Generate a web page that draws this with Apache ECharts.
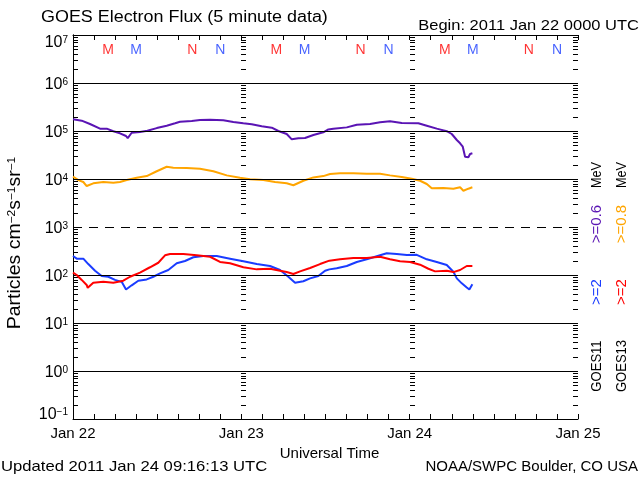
<!DOCTYPE html>
<html><head><meta charset="utf-8">
<script src="https://cdn.jsdelivr.net/npm/echarts@6/dist/echarts.min.js"></script>
<style>html,body{margin:0;padding:0;background:#fff}#c{width:640px;height:480px}</style>
</head><body><div id="c"></div>
<script>
// hours since 2011 Jan 22 00:00 UTC
const purpleHours = [0,1.24,2.42,3.85,4.81,5.75,6.7,7.56,7.8,8.37,9.55,10.6,11.94,13.36,14.55,15.26,16.93,18.11,19.54,21.43,22.86,24.28,25.48,26.91,28.34,29.28,30.47,31.19,32.13,33.08,34.27,35.69,36.41,37.12,39.03,40.46,42.35,43.78,45.2,46.87,49.24,50.44,51.86,53.29,54.0,54.72,55.19,55.57,55.9,56.37,56.61,56.94];
const purpleFlux = [1.75e5,1.64e5,1.40e5,1.12e5,1.12e5,9.9e4,8.96e4,7.87e4,7.1e4,9.2e4,9.5e4,1.01e5,1.15e5,1.29e5,1.45e5,1.56e5,1.62e5,1.69e5,1.72e5,1.67e5,1.54e5,1.45e5,1.38e5,1.25e5,1.17e5,1.0e5,8.66e4,6.71e4,7.05e4,7.14e4,8.26e4,9.4e4,1.08e5,1.12e5,1.19e5,1.35e5,1.40e5,1.52e5,1.59e5,1.47e5,1.45e5,1.29e5,1.12e5,9.9e4,8.66e4,6.49e4,5.54e4,4.71e4,2.91e4,2.83e4,3.32e4,3.43e4];
const orangeHours = [0,0.76,1.47,1.95,2.89,4.32,5.75,6.7,7.66,9.08,10.51,11.94,13.36,14.3,16.21,18.11,20.01,21.92,23.81,25.24,27.14,28.81,30.47,31.42,32.84,34.27,35.69,36.65,38.07,39.97,41.88,43.78,45.2,46.87,48.3,49.48,50.44,51.15,52.81,54.23,55.19,55.66,56.37,56.94];
const orangeFlux = [1.12e4,9.5e3,8.66e3,7.14e3,8.13e3,8.66e3,8.38e3,8.66e3,9.5e3,1.06e4,1.15e4,1.45e4,1.80e4,1.72e4,1.69e4,1.64e4,1.45e4,1.19e4,1.06e4,9.86e3,9.5e3,8.66e3,8.13e3,7.4e3,9.2e3,1.08e4,1.15e4,1.27e4,1.31e4,1.31e4,1.29e4,1.29e4,1.19e4,1.10e4,1.01e4,9.2e3,7.87e3,6.4e3,6.49e3,6.28e3,6.71e3,5.7e3,6.28e3,6.71e3];
const blueHours = [0,0.53,1.47,2.18,3.14,4.09,5.03,5.99,6.94,7.56,8.37,9.31,10.51,11.45,12.41,13.59,14.79,15.97,17.16,18.58,20.49,22.39,24.29,26.2,28.09,29.52,30.7,31.66,32.84,33.8,34.98,35.94,36.55,37.6,39.03,40.46,41.88,43.07,44.73,46.16,47.59,49.01,50.44,51.86,53.29,54.23,54.72,55.43,56.14,56.51,56.94];
const blueFlux = [249,219,219,169,123,95,92,79,72,50,61,76,81,92,108,127,175,196,234,249,249,219,193,169,154,127,92,69,74,85,95,123,131,138,154,187,212,240,283,274,261,263,212,187,162,117,85,67,55,50,64];
const redHours = [0,0.53,1.24,1.95,2.1,2.89,4.32,5.75,7.17,8.13,9.55,10.98,12.16,13.12,13.83,15.73,17.64,19.54,20.96,22.39,24.29,26.2,28.09,29.52,30.47,31.42,32.37,33.8,35.22,36.55,38.07,39.97,41.88,43.78,45.2,46.63,48.06,49.48,50.67,51.62,53.29,54.23,55.19,56.14,56.94];
const redFlux = [112,100,79,62,54,69,72,69,76,92,112,145,180,257,274,274,257,240,187,175,145,131,135,123,115,105,119,140,169,199,212,226,226,240,212,193,187,164,135,119,123,115,127,154,154];
// local midnight (M) / noon (N) markers: GOES13 red, GOES11 blue
const markerHoursG13 = [5,17,29,41,53,65];
const markerTextG13 = ['M','N','M','N','M','N'];
const markerHoursG11 = [9,21,33,45,57,69];
const markerTextG11 = ['M','N','M','N','M','N'];
const dayLabels = ['Jan 22','Jan 23','Jan 24','Jan 25'];
const decadeExps = [-1,0,1,2,3,4,5,6,7];

const FONT = 'Liberation Sans';
const C_PURPLE = '#5a14b4', C_ORANGE = '#ffa500', C_BLUE = '#1a3cff', C_RED = '#ff0000';

const zip = (h, v) => h.map((x, i) => [x, v[i]]);

// log ticks (1..9 x 10^k) for left/right axes and day boundaries
const tickVals = [];
for (let k = -1; k < 7; k++) for (let m = 1; m <= 9; m++) tickVals.push(m * Math.pow(10, k));
tickVals.push(1e7);
const tickData = [];
[[0, 1], [24, 1], [48, 1], [72, -1]].forEach(([x, d]) => tickVals.forEach(v => tickData.push([x, v, d])));

const supLabel = e => {
  const core = '{b|10}{s|' + (e < 0 ? '\u2212' + (-e) : e) + '}';
  if (e === 7) return '{g|}\n' + core;
  if (e === -1) return core + '\n{g|}';
  return core;
};

const chart = echarts.init(document.getElementById('c'), null, {renderer: 'canvas'});
const axisTxt = {fontFamily: FONT, fontSize: 15, color: '#000'};
chart.setOption({
  animation: false,
  backgroundColor: '#fff',
  grid: {left: 73, right: 62, top: 35, bottom: 61, containLabel: false},
  xAxis: [{
    type: 'value', min: 0, max: 72, interval: 3, position: 'bottom',
    axisLine: {lineStyle: {color: '#000', width: 1}},
    axisTick: {inside: true, length: 5, lineStyle: {color: '#000'}},
    splitLine: {show: false},
    axisLabel: Object.assign({margin: 7, formatter: v => (v % 24 === 0 ? dayLabels[v / 24] : '')}, axisTxt),
    name: 'Universal Time', nameLocation: 'middle', nameGap: 22,
    nameTextStyle: {fontFamily: FONT, fontSize: 15, color: '#000', padding: [0, 0, 0, 8]}
  }, {
    type: 'value', min: 0, max: 72, interval: 3, position: 'top',
    axisLine: {lineStyle: {color: '#000', width: 1}},
    axisTick: {inside: true, length: 5, lineStyle: {color: '#000'}},
    splitLine: {show: false}, axisLabel: {show: false}
  }],
  yAxis: [{
    type: 'log', logBase: 10, min: 0.1, max: 1e7, splitNumber: 8, position: 'left',
    axisLine: {show: true, lineStyle: {color: '#000', width: 1}},
    axisTick: {show: false}, splitLine: {show: false},
    axisLabel: {
      margin: 5, formatter: v => supLabel(Math.round(Math.log10(v))),
      padding: [4, 0, 0, 0],
      rich: {
        b: {fontFamily: FONT, fontSize: 16, color: '#000', lineHeight: 16},
        s: {fontFamily: FONT, fontSize: 10, color: '#000', verticalAlign: 'top', lineHeight: 10},
        g: {fontSize: 10, lineHeight: 12}
      }
    }
  }, {
    type: 'log', logBase: 10, min: 0.1, max: 1e7, splitNumber: 8, position: 'right',
    axisLine: {show: true, lineStyle: {color: '#000', width: 1}},
    axisTick: {show: false}, splitLine: {show: false}, axisLabel: {show: false}
  }],
  series: [{
    type: 'line', data: [], silent: true, z: 1,
    markLine: {
      silent: true, symbol: ['none', 'none'], label: {show: false}, animation: false,
      data: decadeExps.filter(e => e > -1 && e < 7).map(e => ({
        yAxis: Math.pow(10, e),
        lineStyle: {color: '#000', width: 1, type: e === 3 ? [9, 7] : 'solid'}
      }))
    }
  }, {
    type: 'custom', data: tickData, silent: true, z: 3, clip: false,
    renderItem: (params, api) => {
      const p = api.coord([api.value(0), api.value(1)]);
      const y = Math.round(p[1]) + 0.5;
      const x = Math.round(p[0]);
      const d = api.value(2);
      return {type: 'line', shape: {x1: x, y1: y, x2: x + d * 5, y2: y}, style: {stroke: '#000', lineWidth: 1}};
    }
  }, {
    type: 'line', data: zip(purpleHours, purpleFlux), showSymbol: false, z: 4,
    lineStyle: {color: C_PURPLE, width: 2}, itemStyle: {color: C_PURPLE}
  }, {
    type: 'line', data: zip(orangeHours, orangeFlux), showSymbol: false, z: 4,
    lineStyle: {color: C_ORANGE, width: 2}, itemStyle: {color: C_ORANGE}
  }, {
    type: 'line', data: zip(blueHours, blueFlux), showSymbol: false, z: 4,
    lineStyle: {color: C_BLUE, width: 2}, itemStyle: {color: C_BLUE}
  }, {
    type: 'line', data: zip(redHours, redFlux), showSymbol: false, z: 5,
    lineStyle: {color: C_RED, width: 2}, itemStyle: {color: C_RED}
  }, {
    type: 'scatter', symbolSize: 0, z: 6, silent: true,
    data: markerHoursG13.map((h, i) => ({value: [h, 4.9e6], name: markerTextG13[i]})),
    label: {show: true, position: 'inside', formatter: p => p.name, fontFamily: FONT, fontSize: 14, color: C_RED}
  }, {
    type: 'scatter', symbolSize: 0, z: 6, silent: true,
    data: markerHoursG11.map((h, i) => ({value: [h, 4.9e6], name: markerTextG11[i]})),
    label: {show: true, position: 'inside', formatter: p => p.name, fontFamily: FONT, fontSize: 14, color: C_BLUE}
  }],
  graphic: [
    {type: 'text', x: 41, y: 18, scaleX: 1.12, style: {text: 'GOES Electron Flux (5 minute data)', align: 'left', verticalAlign: 'middle', font: '16px "Liberation Sans"', fill: '#000'}},
    {type: 'text', x: 639, y: 26, scaleX: 1.1, style: {text: 'Begin: 2011 Jan 22 0000 UTC', align: 'right', verticalAlign: 'middle', font: '15px "Liberation Sans"', fill: '#000'}},
    {type: 'text', x: 1, y: 467, scaleX: 1.11, style: {text: 'Updated 2011 Jan 24 09:16:13 UTC', align: 'left', verticalAlign: 'middle', font: '15px "Liberation Sans"', fill: '#000'}},
    {type: 'text', x: 638, y: 467, style: {text: 'NOAA/SWPC Boulder, CO USA', align: 'right', verticalAlign: 'middle', font: '15px "Liberation Sans"', fill: '#000'}},
    {type: 'text', x: 15, y: 243, rotation: Math.PI / 2, scaleX: 1.08,
      style: {text: '{a|Particles cm}{s|\u22122}{a|s}{s|\u22121}{a|sr}{s|\u22121}', align: 'center', verticalAlign: 'middle',
        rich: {a: {fontFamily: FONT, fontSize: 18, color: '#000', lineHeight: 18}, s: {fontFamily: FONT, fontSize: 11, color: '#000', verticalAlign: 'top', lineHeight: 11}}}},
    // right-hand legend, column 1 (GOES11)
    {type: 'text', x: 597, y: 175, rotation: Math.PI / 2, scaleX: 0.85, style: {text: 'MeV', align: 'center', verticalAlign: 'middle', font: '15px "Liberation Sans"', fill: '#000'}},
    {type: 'text', x: 597, y: 224, rotation: Math.PI / 2, style: {text: '>=0.6', align: 'center', verticalAlign: 'middle', font: '15px "Liberation Sans"', fill: C_PURPLE}},
    {type: 'text', x: 597, y: 292, rotation: Math.PI / 2, style: {text: '>=2', align: 'center', verticalAlign: 'middle', font: '15px "Liberation Sans"', fill: C_BLUE}},
    {type: 'text', x: 597, y: 366, rotation: Math.PI / 2, scaleX: 0.87, style: {text: 'GOES11', align: 'center', verticalAlign: 'middle', font: '15px "Liberation Sans"', fill: '#000'}},
    // column 2 (GOES13)
    {type: 'text', x: 622, y: 175, rotation: Math.PI / 2, scaleX: 0.85, style: {text: 'MeV', align: 'center', verticalAlign: 'middle', font: '15px "Liberation Sans"', fill: '#000'}},
    {type: 'text', x: 622, y: 224, rotation: Math.PI / 2, style: {text: '>=0.8', align: 'center', verticalAlign: 'middle', font: '15px "Liberation Sans"', fill: C_ORANGE}},
    {type: 'text', x: 622, y: 292, rotation: Math.PI / 2, style: {text: '>=2', align: 'center', verticalAlign: 'middle', font: '15px "Liberation Sans"', fill: C_RED}},
    {type: 'text', x: 622, y: 366, rotation: Math.PI / 2, scaleX: 0.87, style: {text: 'GOES13', align: 'center', verticalAlign: 'middle', font: '15px "Liberation Sans"', fill: '#000'}}
  ]
});
</script></body></html>
